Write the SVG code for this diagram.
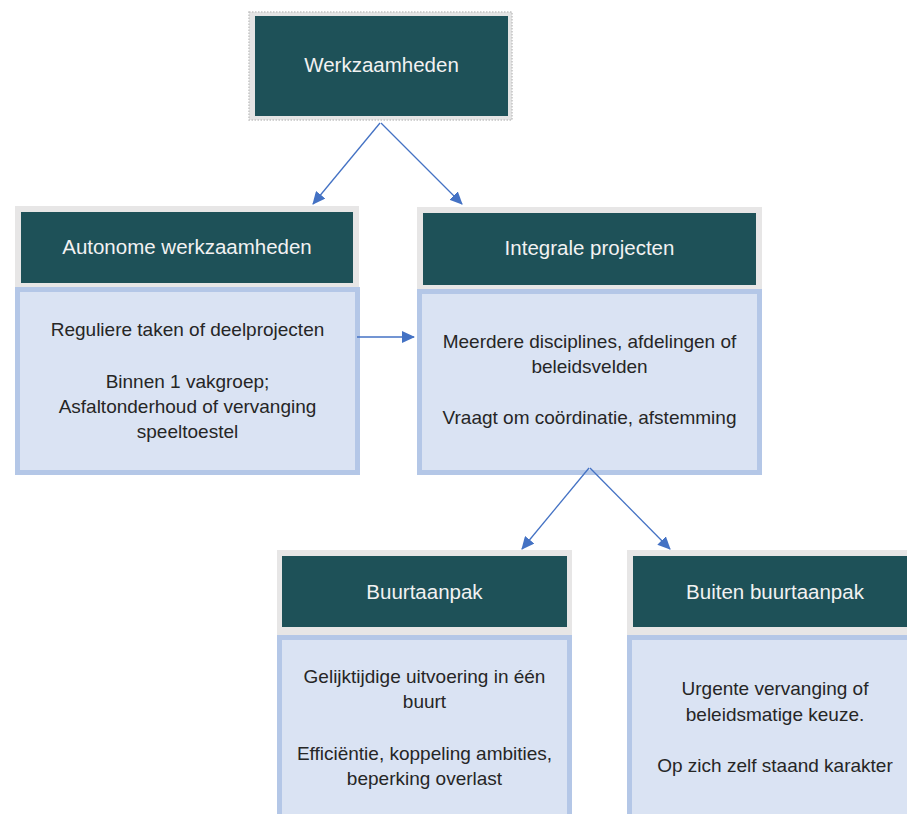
<svg xmlns="http://www.w3.org/2000/svg" width="907" height="814" viewBox="0 0 907 814">
<defs>
<style>
.frame{fill:#e7e6e6;}
.head{fill:#1e5158;}
.body{fill:#dae3f3;stroke:#b4c7e7;stroke-width:5;}
.ht{font-family:"Liberation Sans",Arial,sans-serif;font-size:20.5px;fill:#f2f2f2;text-anchor:middle;}
.bt{font-family:"Liberation Sans",Arial,sans-serif;font-size:19px;fill:#262626;text-anchor:middle;}
.conn{stroke:#4472c4;stroke-width:1.3;fill:none;marker-end:url(#ah);}
</style>
<marker id="ah" markerUnits="userSpaceOnUse" markerWidth="14" markerHeight="12" refX="12" refY="6" orient="auto">
<path d="M0,0 L13,6 L0,12 Z" fill="#4472c4"/>
</marker>
</defs>
<rect width="907" height="814" fill="#ffffff"/>
<g id="werkzaamheden">
<rect x="249" y="12" width="263" height="108" fill="#e4e4e4" stroke="#c4c4c4" stroke-width="1.5" stroke-dasharray="1.5 1.5"/>
<rect class="head" x="255" y="16" width="253" height="100"/>
<text class="ht" x="381.5" y="72">Werkzaamheden</text>
</g>
<g id="autonome">
<rect class="frame" x="15" y="206" width="344" height="82"/>
<rect class="head" x="21" y="212" width="332" height="71"/>
<text class="ht" x="187" y="254">Autonome werkzaamheden</text>
<rect class="body" x="17.5" y="289.5" width="340" height="183"/>
<text class="bt" x="187.5" y="336">Reguliere taken of deelprojecten</text>
<text class="bt" x="187.5" y="388">Binnen 1 vakgroep;</text>
<text class="bt" x="187.5" y="413">Asfaltonderhoud of vervanging</text>
<text class="bt" x="187.5" y="438">speeltoestel</text>
</g>
<g id="integrale">
<rect class="frame" x="417" y="207" width="345" height="83"/>
<rect class="head" x="423" y="213" width="333" height="72"/>
<text class="ht" x="589.5" y="255">Integrale projecten</text>
<rect class="body" x="419.5" y="291.5" width="340" height="181"/>
<text class="bt" x="589.5" y="348">Meerdere disciplines, afdelingen of</text>
<text class="bt" x="589.5" y="373">beleidsvelden</text>
<text class="bt" x="589.5" y="424">Vraagt om coördinatie, afstemming</text>
</g>
<g id="buurtaanpak">
<rect class="frame" x="277" y="550" width="295" height="86"/>
<rect class="head" x="282" y="556" width="285" height="71"/>
<text class="ht" x="424.5" y="599">Buurtaanpak</text>
<rect class="body" x="279.5" y="637.5" width="290" height="190"/>
<text class="bt" x="424.5" y="683">Gelijktijdige uitvoering in één</text>
<text class="bt" x="424.5" y="708">buurt</text>
<text class="bt" x="424.5" y="760">Efficiëntie, koppeling ambities,</text>
<text class="bt" x="424.5" y="785">beperking overlast</text>
</g>
<g id="buiten">
<rect class="frame" x="627" y="550" width="300" height="86"/>
<rect class="head" x="633" y="556" width="290" height="71"/>
<text class="ht" x="775" y="599">Buiten buurtaanpak</text>
<rect class="body" x="629.5" y="637.5" width="300" height="190"/>
<text class="bt" x="775" y="695">Urgente vervanging of</text>
<text class="bt" x="775" y="721">beleidsmatige keuze.</text>
<text class="bt" x="775" y="772">Op zich zelf staand karakter</text>
</g>
<g id="connectors">
<line class="conn" x1="380" y1="123" x2="313" y2="204"/>
<line class="conn" x1="381" y1="123" x2="462" y2="204"/>
<line class="conn" x1="357" y1="337" x2="414" y2="337"/>
<line class="conn" x1="589" y1="468" x2="522" y2="549"/>
<line class="conn" x1="590" y1="468" x2="670" y2="549"/>
</g>
</svg>
